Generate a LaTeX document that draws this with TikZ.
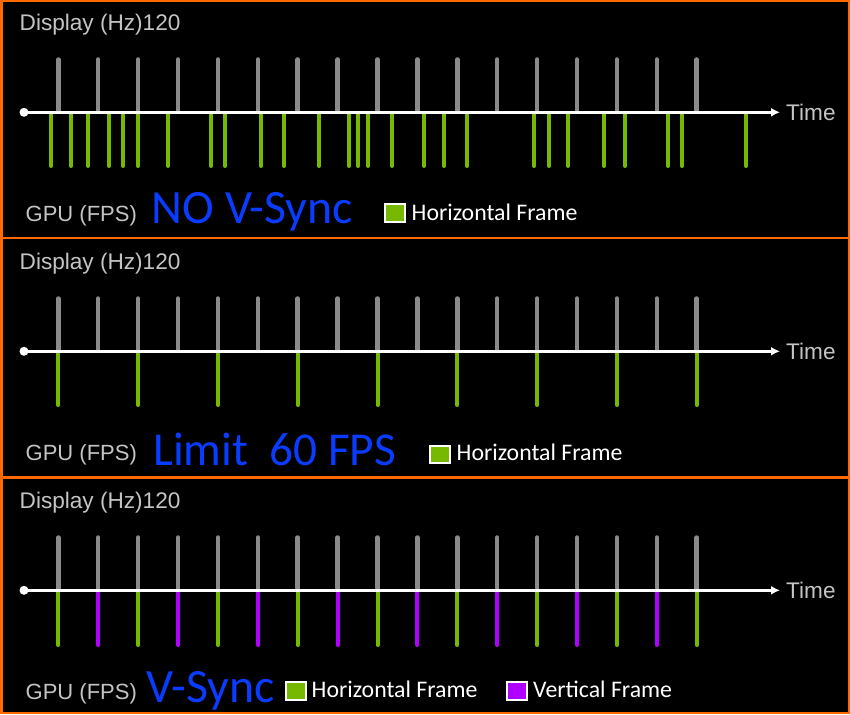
\documentclass[tikz,border=0pt]{standalone}
\usepackage{fontspec}
\setmainfont{Carlito}
\newfontfamily\dinfont{Liberation Sans}
\usepackage{tikz}
\usetikzlibrary{arrows.meta,positioning}

\definecolor{nvgreen}{HTML}{76B900}
\definecolor{vpurple}{HTML}{B000FF}
\definecolor{modeblue}{HTML}{0A3CFF}
\definecolor{frameorange}{HTML}{FF6A00}
\definecolor{tickgray}{HTML}{8A8A8A}
\definecolor{labelgray}{HTML}{C4C4C4}

\begin{document}
\begin{tikzpicture}[x=1pt,y=-1pt,>={Latex[length=9pt,width=9pt]}]
\tikzstyle{axislabel}=[inner sep=0pt, anchor=base west, text=labelgray, font=\dinfont\fontsize{22.6}{26}\selectfont]
\tikzstyle{gpulabel}=[axislabel, font=\dinfont\fontsize{22}{26}\selectfont]
\tikzstyle{modetext}=[inner sep=0pt, anchor=base west, text=modeblue, font=\fontsize{47.8}{52}\selectfont]
\tikzstyle{legendtext}=[inner sep=0pt, anchor=base west, text=white, font=\fontsize{23.8}{26}\selectfont]
\tikzstyle{legendbox}=[draw=white, line width=2pt, minimum width=20pt, minimum height=17.5pt, inner sep=0pt]
\tikzstyle{hzbar}=[tickgray, line width=4.5pt, line cap=round]
\tikzstyle{hframe}=[nvgreen, line width=4pt, line cap=round]
\tikzstyle{vframe}=[vpurple, line width=4pt, line cap=round]
\tikzstyle{timeline}=[white, line width=3.5pt, ->]

\useasboundingbox (0,0) rectangle (850,714);
\fill[black] (0,0) rectangle (850,714);

% orange frame and panel separators
\draw[frameorange, line width=2.5pt] (1.25,1.25) rectangle (848.75,712.75);
\draw[frameorange, line width=2.5pt] (0,238) -- (850,238) (0,477.5) -- (850,477.5);

% display refresh ticks (120 Hz)
\foreach \p in {0,1,2}{
  \pgfmathsetmacro{\o}{239*\p}
  \foreach \i in {0,...,16}
    \draw[hzbar] ({58.3+39.9*\i},{59.5+\o}) -- ({58.3+39.9*\i},{111+\o});
}

% panel 1: no v-sync
\foreach \x in {51,71,88,109,123,138,168,211,225,261,284,319,349,358,368,392,424,444,467,534,549,568,604,625,668,682,746}
  \draw[hframe] (\x,114) -- (\x,166);

% panel 2: limit 60 fps
\foreach \i in {0,2,...,16}
  \draw[hframe] ({58.3+39.9*\i},353) -- ({58.3+39.9*\i},405);

% panel 3: v-sync
\foreach \i in {0,2,...,16}
  \draw[hframe] ({58.3+39.9*\i},592) -- ({58.3+39.9*\i},645);
\foreach \i in {1,3,...,15}
  \draw[vframe] ({58.3+39.9*\i},592) -- ({58.3+39.9*\i},645);

% time axes and labels
\foreach \p in {0,1,2}{
  \pgfmathsetmacro{\o}{239*\p}
  \coordinate (start\p) at (24,{112.3+\o});
  \coordinate (end\p) at (780,{112.3+\o});
  \draw[timeline] (start\p) -- (end\p);
  \fill[white] (start\p) circle (4.5pt);
  \node[axislabel] (time\p) at (786,{120.3+\o}) {Time};
  \node[axislabel] (disp\p) at (19.5,{30.7+\o}) {Display (Hz)120};
  \node[gpulabel] (gpu\p) at (25.5,{221.7+\o}) {GPU (FPS)};
}

% mode titles
\node[modetext] (nosync) at (151.5,223.3) {NO V-Sync};
\node[modetext, font=\fontsize{47.2}{52}\selectfont] (limit) at (153,465.5) {Limit\ \ 60 FPS};
\node[modetext] (vsync) at (146.5,702.7) {V-Sync};

% legends
\node[legendbox, fill=nvgreen] (hbox1) at (394.7,212.8) {};
\node[legendtext] (hleg1) at (411.5,220) {Horizontal Frame};
\node[legendbox, fill=nvgreen] (hbox2) at (439.5,454.5) {};
\node[legendtext] (hleg2) at (456.5,460.7) {Horizontal Frame};
\node[legendbox, fill=nvgreen] (hbox3) at (295.5,691) {};
\node[legendtext] (hleg3) at (311.5,697.3) {Horizontal Frame};
\node[legendbox, fill=vpurple] (vbox3) at (516.7,691.2) {};
\node[legendtext] (vleg3) at (533,697.3) {Vertical Frame};

\end{tikzpicture}
\end{document}
